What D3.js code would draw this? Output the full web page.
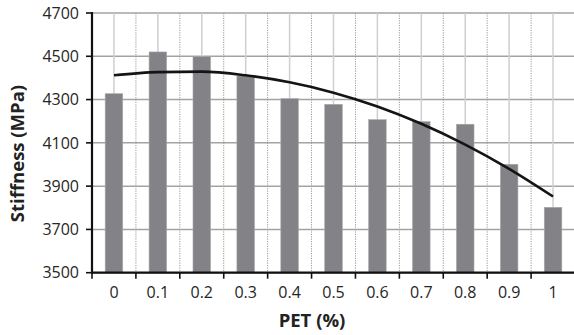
<!DOCTYPE html>
<html>
<head>
<meta charset="utf-8">
<script src="https://cdn.jsdelivr.net/npm/d3@7"></script>
<style>
html,body{margin:0;padding:0;background:#fff;}
svg{display:block;}
</style>
</head>
<body>
<svg id="chart" width="574" height="335"></svg>
<script>
const categories = ["0","0.1","0.2","0.3","0.4","0.5","0.6","0.7","0.8","0.9","1"];
const stiffness = [4327, 4520, 4498, 4409, 4304, 4278, 4207, 4198, 4186, 4001, 3802];
const trend = [4412, 4427, 4429, 4412, 4380, 4332, 4268, 4188, 4092, 3980, 3852];
const yTicks = [3500, 3700, 3900, 4100, 4300, 4500, 4700];
const yLabel = "Stiffness (MPa)";
const xLabel = "PET (%)";

(function () {
const svg = d3.select("#chart");
const mLeft = 92, mRight = 575, mTop = 13, mBottom = 272.7;
const font = "'Open Sans', 'Noto Sans', sans-serif";

const x = d3.scaleBand().domain(categories).range([mLeft, mRight]).paddingInner(0).paddingOuter(0);
const y = d3.scaleLinear().domain([3500, 4700]).range([mBottom, mTop]);
const bw = x.bandwidth();
const cx = c => x(c) + bw / 2;

// horizontal gridlines
svg.append("g").selectAll("line").data(yTicks).join("line")
  .attr("x1", mLeft).attr("x2", 574)
  .attr("y1", d => y(d)).attr("y2", d => y(d))
  .attr("stroke", "#a3a3a3").attr("stroke-width", 1.5);

// vertical solid gridlines at category centers
svg.append("g").selectAll("line").data(categories).join("line")
  .attr("x1", d => cx(d)).attr("x2", d => cx(d))
  .attr("y1", mTop).attr("y2", mBottom)
  .attr("stroke", "#cfcfcf").attr("stroke-width", 1.5);

// vertical dotted gridlines at band boundaries
svg.append("g").selectAll("line").data(categories.slice(1)).join("line")
  .attr("x1", d => x(d)).attr("x2", d => x(d))
  .attr("y1", mTop).attr("y2", mBottom)
  .attr("stroke", "#9a9a9a").attr("stroke-width", 1).attr("stroke-dasharray", "1.2,1.2");

// bars
const barW = bw * 0.4;
svg.append("g").selectAll("rect").data(categories).join("rect")
  .attr("x", d => cx(d) - barW / 2)
  .attr("width", barW)
  .attr("y", (d, i) => y(stiffness[i]))
  .attr("height", (d, i) => mBottom - y(stiffness[i]))
  .attr("fill", "#838387")
  .attr("stroke", "#a8a8aa").attr("stroke-width", 0.6);

// trend line
const line = d3.line().x(d => cx(d.c)).y(d => y(d.v)).curve(d3.curveMonotoneX);
svg.append("path")
  .datum(categories.map((c, i) => ({c, v: trend[i]})))
  .attr("d", line)
  .attr("fill", "none").attr("stroke", "#141414").attr("stroke-width", 2.6);

// y axis
const yAxis = svg.append("g");
yAxis.append("line").attr("x1", mLeft).attr("x2", mLeft).attr("y1", mTop - 1).attr("y2", mBottom + 1)
  .attr("stroke", "#111").attr("stroke-width", 2.2);
yAxis.selectAll("line.tk").data(yTicks).join("line").attr("class", "tk")
  .attr("x1", 86).attr("x2", mLeft).attr("y1", d => y(d)).attr("y2", d => y(d))
  .attr("stroke", "#111").attr("stroke-width", 1.6);
yAxis.selectAll("text").data(yTicks).join("text")
  .attr("x", 79).attr("y", d => y(d)).attr("dy", "0.36em")
  .attr("text-anchor", "end")
  .attr("font-family", font).attr("font-size", 16).attr("fill", "#262626")
  .text(d => d);

// x axis
const xAxis = svg.append("g");
xAxis.append("line").attr("x1", mLeft - 1).attr("x2", 574).attr("y1", mBottom).attr("y2", mBottom)
  .attr("stroke", "#111").attr("stroke-width", 2.2);
xAxis.selectAll("line.tk").data(categories).join("line").attr("class", "tk")
  .attr("x1", d => x(d)).attr("x2", d => x(d)).attr("y1", mBottom).attr("y2", mBottom + 6)
  .attr("stroke", "#111").attr("stroke-width", 1.6);
xAxis.selectAll("text").data(categories).join("text")
  .attr("x", d => cx(d)).attr("y", 298)
  .attr("text-anchor", "middle")
  .attr("font-family", font).attr("font-size", 16).attr("fill", "#262626")
  .text(d => d);

// axis titles
svg.append("text")
  .attr("transform", "translate(24," + ((80 + 227) / 2) + ") rotate(-90)")
  .attr("text-anchor", "middle")
  .attr("font-family", font).attr("font-size", 18.5).attr("font-weight", "bold").attr("fill", "#222")
  .text(yLabel);
svg.append("text")
  .attr("x", 312).attr("y", 327)
  .attr("text-anchor", "middle")
  .attr("font-family", font).attr("font-size", 18.5).attr("font-weight", "bold").attr("fill", "#222")
  .text(xLabel);
})();
</script>
</body>
</html>
